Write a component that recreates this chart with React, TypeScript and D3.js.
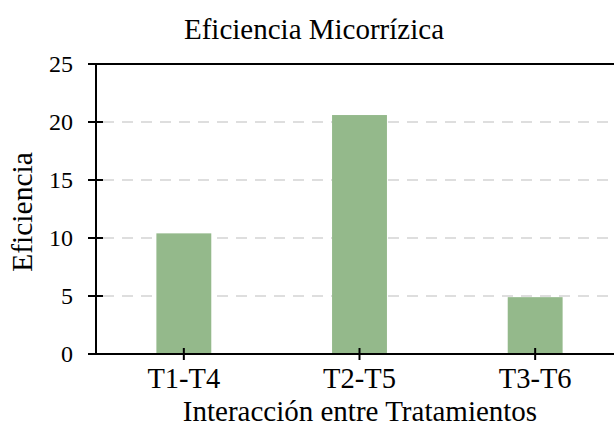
import React, { useRef, useEffect } from 'react';
import * as d3 from 'd3';

const categories = ['T1-T4', 'T2-T5', 'T3-T6'];
const values = [10.4, 20.6, 4.9];
const yTicks = [0, 5, 10, 15, 20, 25];

const chartTitle = 'Eficiencia Micorrízica';
const xTitle = 'Interacción entre Tratamientos';
const yTitle = 'Eficiencia';

const App: React.FC = () => {
  const ref = useRef<SVGSVGElement | null>(null);

  useEffect(() => {
    if (!ref.current) return;
    const svg = d3.select(ref.current);
    svg.selectAll('*').remove();

    const width = 614;
    const height = 439;
    const margin = { top: 64, left: 96, bottom: 85 };
    const plotRight = 623; // plot runs past the right edge

    const x = d3.scaleBand<string>()
      .domain(categories)
      .range([margin.left, plotRight])
      .paddingInner(0.6875)
      .paddingOuter(0.34375);

    const y = d3.scaleLinear().domain([0, 25]).range([height - margin.bottom, margin.top]);

    const font = '"Liberation Serif", "Times New Roman", serif';

    // gridlines
    svg.append('g')
      .selectAll('line')
      .data(yTicks.filter(d => d > 0 && d < 25))
      .join('line')
      .attr('x1', margin.left + 7)
      .attr('x2', width)
      .attr('y1', d => y(d))
      .attr('y2', d => y(d))
      .attr('stroke', '#d4d4d4')
      .attr('stroke-width', 1.5)
      .attr('stroke-dasharray', '11,8');

    // bars
    svg.append('g')
      .selectAll('rect')
      .data(values)
      .join('rect')
      .attr('x', (_, i) => x(categories[i])!)
      .attr('y', d => y(d))
      .attr('width', x.bandwidth())
      .attr('height', d => y(0) - y(d))
      .attr('fill', '#94b98b');

    // frame: top line, bottom axis, left axis
    svg.append('line')
      .attr('x1', margin.left - 8).attr('x2', width)
      .attr('y1', y(25)).attr('y2', y(25))
      .attr('stroke', '#000').attr('stroke-width', 2);

    svg.append('line')
      .attr('x1', margin.left - 8).attr('x2', width)
      .attr('y1', y(0)).attr('y2', y(0))
      .attr('stroke', '#000').attr('stroke-width', 2);

    svg.append('line')
      .attr('x1', margin.left).attr('x2', margin.left)
      .attr('y1', y(25)).attr('y2', y(0))
      .attr('stroke', '#000').attr('stroke-width', 2);

    // y ticks
    const yg = svg.append('g');
    yg.selectAll('line')
      .data(yTicks)
      .join('line')
      .attr('x1', margin.left - 8).attr('x2', margin.left + 7)
      .attr('y1', d => y(d)).attr('y2', d => y(d))
      .attr('stroke', '#000').attr('stroke-width', 2);
    yg.selectAll('text')
      .data(yTicks)
      .join('text')
      .attr('x', margin.left - 23)
      .attr('y', d => y(d))
      .attr('dy', '0.35em')
      .attr('text-anchor', 'end')
      .attr('font-family', font)
      .attr('font-size', 24)
      .attr('fill', '#000')
      .text(d => d);

    // x ticks
    const xg = svg.append('g');
    xg.selectAll('line')
      .data(categories)
      .join('line')
      .attr('x1', d => x(d)! + x.bandwidth() / 2)
      .attr('x2', d => x(d)! + x.bandwidth() / 2)
      .attr('y1', y(0) - 6).attr('y2', y(0) + 6)
      .attr('stroke', '#000').attr('stroke-width', 2);
    xg.selectAll('text')
      .data(categories)
      .join('text')
      .attr('x', d => x(d)! + x.bandwidth() / 2)
      .attr('y', 388)
      .attr('text-anchor', 'middle')
      .attr('font-family', font)
      .attr('font-size', 28.5)
      .attr('fill', '#000')
      .text(d => d);

    // titles
    svg.append('text')
      .attr('x', 314).attr('y', 39)
      .attr('text-anchor', 'middle')
      .attr('font-family', font).attr('font-size', 29)
      .attr('fill', '#000')
      .text(chartTitle);

    svg.append('text')
      .attr('x', 360).attr('y', 421)
      .attr('text-anchor', 'middle')
      .attr('font-family', font).attr('font-size', 29)
      .attr('fill', '#000')
      .text(xTitle);

    svg.append('text')
      .attr('transform', `translate(32,212) rotate(-90)`)
      .attr('text-anchor', 'middle')
      .attr('font-family', font).attr('font-size', 29.5)
      .attr('fill', '#000')
      .text(yTitle);
  }, []);

  return (
    <div style={{ position: 'fixed', left: 0, top: 0, width: 614, height: 439, background: '#fff' }}>
      <svg ref={ref} width={614} height={439} style={{ display: 'block' }} />
    </div>
  );
};

export default App;
